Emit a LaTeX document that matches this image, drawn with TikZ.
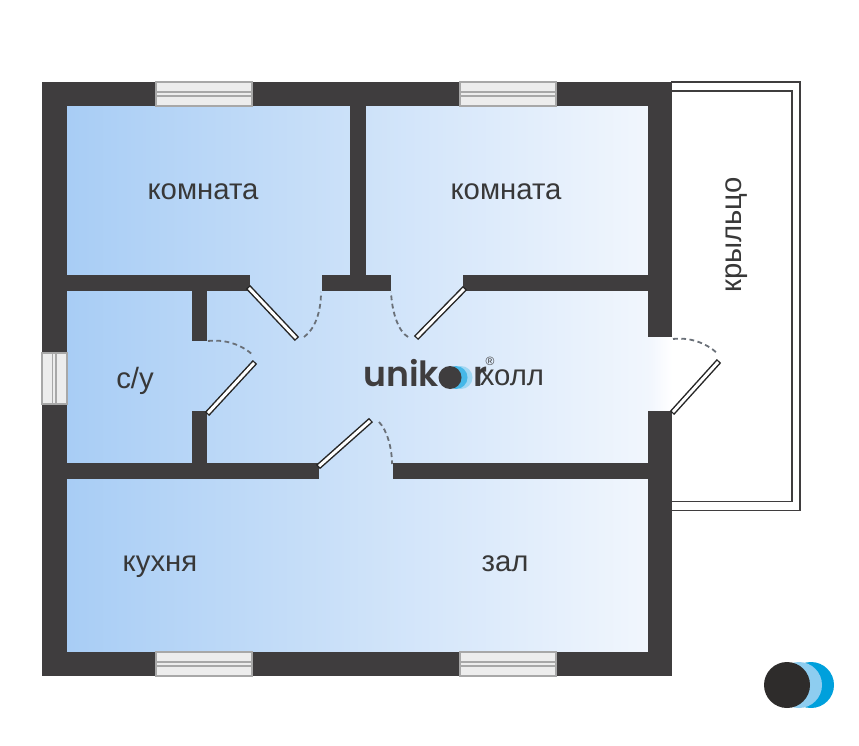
\documentclass[tikz,border=0pt]{standalone}
\usepackage{fontspec}
\setmainfont{Liberation Sans}
\newfontfamily\logofont{Poppins SemiBold}
\definecolor{wallc}{HTML}{3F3D3E}
\definecolor{winedge}{HTML}{A8A8A8}
\definecolor{winfill}{HTML}{EDEDED}
\definecolor{dashc}{HTML}{6A7078}
\definecolor{floorl}{HTML}{A8CDF5}
\definecolor{floorr}{HTML}{F1F6FD}
\tikzset{
  wall/.style={fill=wallc,draw=none},
  winbox/.style={fill=winfill,draw=winedge,line width=1.5pt},
  winline/.style={draw=winedge,line width=1.3pt},
  leaf/.style={draw=black!85,line width=4.4pt,line cap=butt},
  leafin/.style={draw=white,line width=2.2pt,line cap=butt,shorten <=1pt,shorten >=1pt},
  swing/.style={draw=dashc,line width=1.35pt,dash pattern=on 3.6pt off 2.6pt},
  porch/.style={draw=wallc,line width=1.4pt},
  lbl/.style={font=\fontsize{22}{26}\selectfont,text=black!78,inner sep=0pt,anchor=base}
}
\newcommand{\doorleaf}[2]{\draw[leaf] #1 -- #2; \draw[leafin] #1 -- #2;}
\begin{document}
\begin{tikzpicture}[x=0.75pt,y=-0.75pt]
\useasboundingbox (0,0) rectangle (859,745);
% floor
\shade[left color=floorl,right color=floorr] (67,106) rectangle (648.5,652);
\shade[left color=floorr,right color=white] (648,337) rectangle (672,411);
% porch
\draw[porch] (671,82) -- (800,82) -- (800,510.5) -- (671,510.5);
\draw[porch] (671,91) -- (792,91) -- (792,501.5) -- (671,501.5);
% walls
\fill[wall] (42,82) rectangle (672,106);
\fill[wall] (42,652) rectangle (672,676);
\fill[wall] (42,82) rectangle (67,676);
\fill[wall] (648,82) rectangle (672,337);
\fill[wall] (648,411) rectangle (672,676);
\fill[wall] (350,106) rectangle (366,275);
\fill[wall] (67,275) rectangle (250,291);
\fill[wall] (322,275) rectangle (391,291);
\fill[wall] (463,275) rectangle (648,291);
\fill[wall] (192,291) rectangle (207,341);
\fill[wall] (192,411) rectangle (207,463);
\fill[wall] (67,463) rectangle (319,479);
\fill[wall] (393,463) rectangle (648,479);
% windows
\foreach \xa/\ya in {156/82,460/82,156/652,460/652}{
  \draw[winbox] (\xa,\ya) rectangle (\xa+95.5,\ya+24);
  \draw[winline] (\xa,\ya+10) -- (\xa+95.5,\ya+10);
  \draw[winline] (\xa,\ya+14) -- (\xa+95.5,\ya+14);
}
\draw[winbox] (42,353) rectangle (67,404);
\draw[winline] (52.5,353) -- (52.5,404);
\draw[winline] (56,353) -- (56,404);
% door leaves
\doorleaf{(248,287)}{(297,339)}
\doorleaf{(465,288)}{(416,338)}
\doorleaf{(207,414)}{(255,362)}
\doorleaf{(318,467)}{(371,420)}
\doorleaf{(672,413)}{(719,361)}
% swings
\draw[swing] (304,337) .. controls (315,329) and (321,312) .. (321,292);
\draw[swing] (408,337) .. controls (398,331) and (392,312) .. (391,292);
\draw[swing] (208,341) .. controls (226,339) and (242,345) .. (253,355);
\draw[swing] (379,422) .. controls (387,430) and (392,448) .. (392,464);
\draw[swing] (673,339) .. controls (690,337) and (706,343) .. (717,353);
% labels
\node[lbl] (room1) at (203,199.5) {комната};
\node[lbl] (room2) at (506,199.5) {комната};
\node[lbl] (bath) at (135,388) {с/у};
\node[lbl] (kitchen) at (160,571) {кухня};
\node[lbl] (hall) at (505,571) {зал};
\node[lbl,rotate=90] (porchlabel) at (741,235) {крыльцо};
% centre logo
\node[inner sep=0pt,anchor=base west,text=wallc,font=\logofont\fontsize{26}{30}\selectfont] (logou) at (363,386) {unik};
\fill[fill={rgb,255:red,160;green,215;blue,243}] (461,377.5) circle (11.5);
\fill[fill={rgb,255:red,70;green,184;blue,232}] (456,377.5) circle (11.5);
\fill[wallc] (450,377.5) circle (11.5);
\node[inner sep=0pt,anchor=base west,text=wallc,font=\logofont\fontsize{26}{30}\selectfont] (logor) at (473,386) {r};
\node[inner sep=0pt,text=wallc,font=\fontsize{9}{10}\selectfont] (logoreg) at (490,361) {®};
\node[lbl,anchor=base west] (hallway) at (479.5,385.5) {холл};
% corner logo
\fill[fill={rgb,255:red,0;green,160;blue,220}] (811,685) circle (23);
\fill[fill={rgb,255:red,142;green,205;blue,240}] (799,685) circle (23);
\fill[fill={rgb,255:red,46;green,44;blue,43}] (787,685) circle (23);
\end{tikzpicture}
\end{document}
